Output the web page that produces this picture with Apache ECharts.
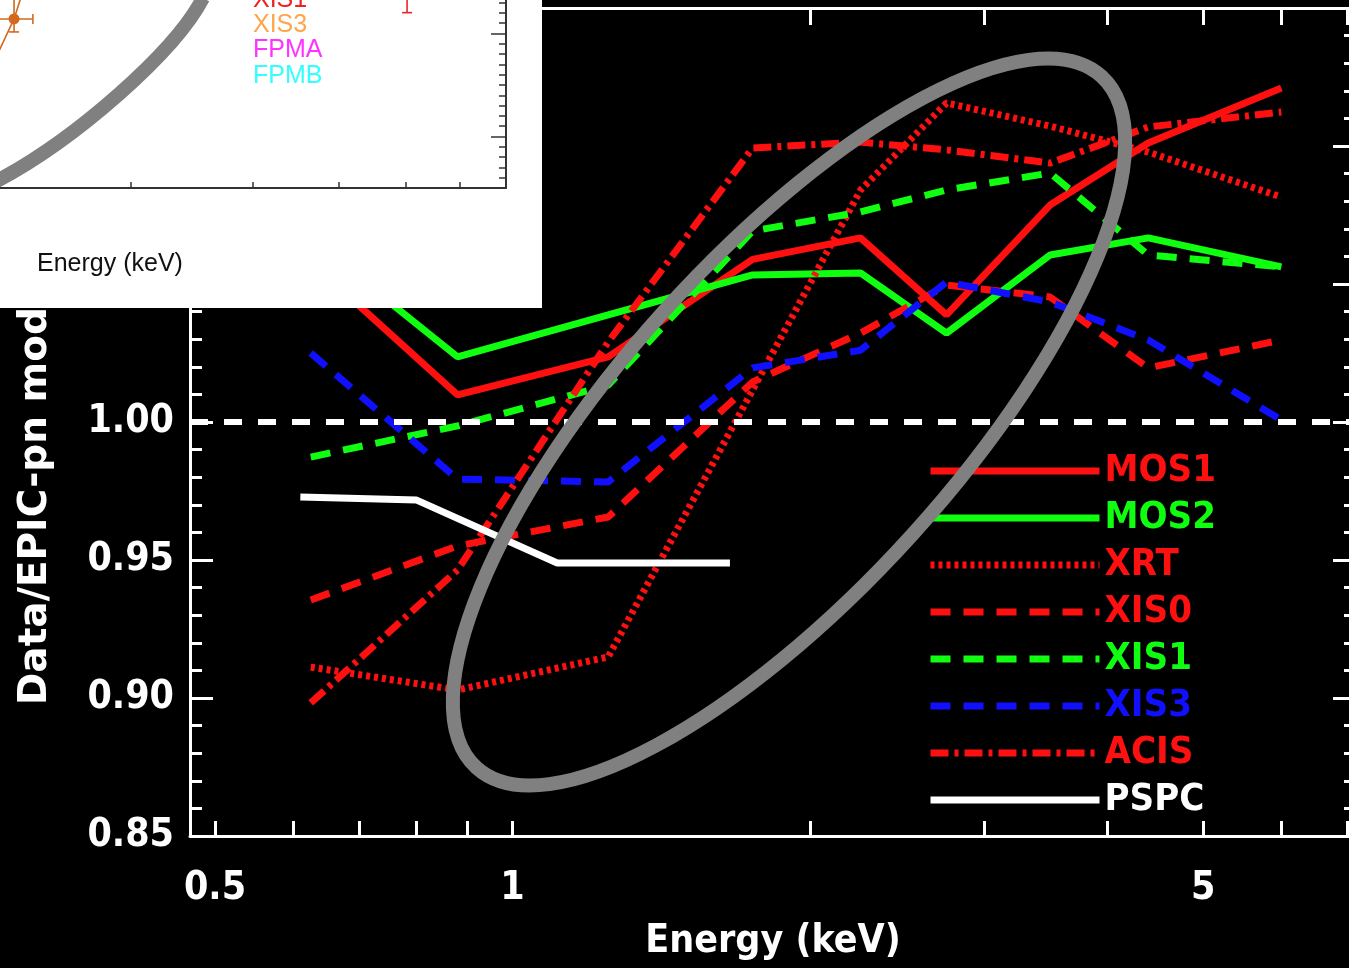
<!DOCTYPE html>
<html>
<head>
<meta charset="utf-8">
<title>Data / EPIC-pn model</title>
<script src="https://cdn.jsdelivr.net/npm/echarts@6/dist/echarts.min.js"></script>
<style>
  html, body { margin: 0; padding: 0; background: #000; }
  #chart { width: 1349px; height: 968px; }
</style>
</head>
<body>
<div id="chart"></div>
<script>
// energy nodes (keV) shared by the instrument curves
const energies = [0.625, 0.88, 1.25, 1.75, 2.25, 2.75, 3.5, 4.4, 6.0];
const mos1 = [1.058, 1.0098, 1.0236, 1.0589, 1.0667, 1.0388, 1.0786, 1.1011, 1.121];
const mos2 = [1.0663, 1.0236, 1.0388, 1.0533, 1.054, 1.0322, 1.0605, 1.0667, 1.0562];
const xrt = [0.9112, 0.9029, 0.9149, 1.0116, 1.084, 1.1156, 1.1072, 1.0978, 1.0815];
const xis0 = [0.9355, 0.9551, 0.9656, 1.0145, 1.0322, 1.0496, 1.0453, 1.0196, 1.0297];
const xis1 = [0.9873, 0.9986, 1.0134, 1.0692, 1.0761, 1.0841, 1.0902, 1.0605, 1.0562];
const xis3 = [1.025, 0.9793, 0.9783, 1.0196, 1.026, 1.0507, 1.0435, 1.0297, 1.0007];
const acis = [0.8982, 0.9464, 1.029, 1.0993, 1.1014, 1.0986, 1.0938, 1.1069, 1.1123];
const pspcEnergies = [0.61, 0.80, 1.11, 1.66];
const pspc = [0.9728, 0.9717, 0.9489, 0.9489];

// axes
const energyRange = [0.4717, 7.14];
const energyTicks = [0.5, 0.6, 0.7, 0.8, 0.9, 1, 2, 3, 4, 5, 6, 7];
const energyLabels = [0.5, 1, 5];
const ratioRange = [0.85, 1.15];

// inset (cropped panel of another figure)
const insetRange = [1.291, 7];
const insetTicks = [2, 3, 4, 5, 6];
const insetYRange = [0.5, 2.325];
const insetMajor = [1, 2];
const insetMinor = [0.6, 0.7, 0.8, 0.9, 1.1, 1.2, 1.3, 1.4, 1.5, 1.6, 1.7, 1.8, 1.9, 2.1, 2.2, 2.3];
const insetLineE = [1.206, 1.353, 1.42];
const insetLineY = [1.43, 2.141, 2.58];
// [E, y, Elow, Ehigh, ylow, yhigh]
const insetOrangeBars = [[1.353, 2.141, 1.27, 1.441, 2.015, 2.45]];
const insetRedBars = [[5.03, 2.5, 5.03, 5.03, 2.202, 2.8]];
const insetLabels = ['XIS1', 'XIS3', 'FPMA', 'FPMB'];

const FONT = '"DejaVu Sans Condensed", "DejaVu Sans", sans-serif';
const RED = '#ff1010', GREEN = '#10ff10', BLUE = '#1010ff';

const lg = Math.log10;
const pts = (xs, ys) => xs.map((e, i) => [lg(e), ys[i]]);

const chart = echarts.init(document.getElementById('chart'));

function lineSeries(name, ys, color, type, xs) {
  return {
    name: name,
    type: 'line',
    xAxisIndex: 0,
    yAxisIndex: 0,
    data: pts(xs || energies, ys),
    symbol: 'none',
    z: 3,
    lineStyle: { color: color, width: 7, type: type, cap: 'butt' },
    itemStyle: { color: color },
    emphasis: { disabled: true }
  };
}

function errRender(params, api) {
  const y = api.value(1);
  const x = api.value(0);
  const lo = api.coord([api.value(2), y]);
  const hi = api.coord([api.value(3), y]);
  const bot = api.coord([x, api.value(4)]);
  const top = api.coord([x, api.value(5)]);
  const c = 5;
  const style = { stroke: api.visual('color'), lineWidth: 1.6 };
  const ln = (x1, y1, x2, y2) => ({ type: 'line', shape: { x1, y1, x2, y2 }, style });
  return {
    type: 'group',
    children: [
      ln(lo[0], lo[1], hi[0], hi[1]),
      ln(hi[0], hi[1] - c, hi[0], hi[1] + c),
      ln(lo[0], lo[1] - c, lo[0], lo[1] + c),
      ln(bot[0], bot[1], top[0], top[1]),
      ln(bot[0] - c, bot[1], bot[0] + c, bot[1]),
      ln(top[0] - c, top[1], top[0] + c, top[1])
    ]
  };
}

const axisWhite = { color: '#fff', width: 3 };
const mainX = {
  type: 'value',
  gridIndex: 0,
  min: lg(energyRange[0]),
  max: lg(energyRange[1]),
  splitLine: { show: false },
  axisLine: { onZero: false, lineStyle: axisWhite },
  axisTick: { inside: true, length: 15, lineStyle: axisWhite, customValues: energyTicks.map(lg) },
  axisLabel: {
    customValues: energyLabels.map(lg),
    formatter: v => String(parseFloat(Math.pow(10, v).toPrecision(2))),
    color: '#fff', fontSize: 39, fontWeight: 'bold', fontFamily: FONT, margin: 33
  }
};
const mainY = {
  type: 'value',
  gridIndex: 0,
  min: ratioRange[0],
  max: ratioRange[1],
  interval: 0.05,
  splitLine: { show: false },
  axisLine: { onZero: false, lineStyle: axisWhite },
  axisTick: { inside: true, length: 23, lineStyle: axisWhite },
  minorTick: { show: true, splitNumber: 5, length: 12, lineStyle: axisWhite },
  axisLabel: {
    formatter: v => v.toFixed(2),
    color: '#fff', fontSize: 39, fontWeight: 'bold', fontFamily: FONT, margin: 16
  }
};

const insetAxisLine = { color: '#333', width: 2 };

chart.setOption({
  backgroundColor: '#000',
  animation: false,
  grid: [
    { left: 190, top: 8, width: 1166, height: 828, outerBoundsMode: 'none', containLabel: false },
    { left: 0, top: 0, width: 506, height: 188, outerBoundsMode: 'none', containLabel: false }
  ],
  xAxis: [
    Object.assign({}, mainX, {
      position: 'bottom',
      name: 'Energy (keV)',
      nameLocation: 'middle',
      nameGap: 86,
      nameTextStyle: { color: '#fff', fontSize: 39, fontWeight: 'bold', fontFamily: FONT }
    }),
    Object.assign({}, mainX, {
      position: 'top',
      axisTick: Object.assign({}, mainX.axisTick, { length: 17 }),
      axisLabel: { show: false }
    }),
    {
      type: 'value', gridIndex: 1, position: 'bottom', z: 60,
      min: lg(insetRange[0]), max: lg(insetRange[1]),
      splitLine: { show: false },
      axisLine: { onZero: false, lineStyle: insetAxisLine },
      axisTick: { inside: true, length: 6, lineStyle: { color: '#333', width: 1.5 }, customValues: insetTicks.map(lg) },
      axisLabel: { show: false }
    }
  ],
  yAxis: [
    Object.assign({}, mainY, { position: 'left' }),
    Object.assign({}, mainY, { position: 'right', axisLabel: { show: false } }),
    {
      type: 'value', gridIndex: 1, position: 'right', z: 60,
      min: insetYRange[0], max: insetYRange[1],
      splitLine: { show: false },
      axisLine: { onZero: false, lineStyle: insetAxisLine },
      axisTick: { inside: true, length: 15, lineStyle: { color: '#333', width: 1.5 }, customValues: insetMajor },
      axisLabel: { show: false }
    },
    {
      type: 'value', gridIndex: 1, position: 'right', z: 60,
      min: insetYRange[0], max: insetYRange[1],
      splitLine: { show: false },
      axisLine: { show: false, onZero: false },
      axisTick: { inside: true, length: 7, lineStyle: { color: '#333', width: 1.5 }, customValues: insetMinor },
      axisLabel: { show: false }
    }
  ],
  legend: {
    orient: 'vertical',
    left: 922,
    top: 446,
    itemWidth: 169,
    itemHeight: 20,
    itemGap: 7,
    selectedMode: false,
    itemStyle: { opacity: 0 },
    lineStyle: { width: 7 },
    textStyle: { fontSize: 38, fontWeight: 'bold', fontFamily: FONT, lineHeight: 40 },
    data: [
      { name: 'MOS1', textStyle: { color: RED } },
      { name: 'MOS2', textStyle: { color: GREEN } },
      { name: 'XRT', textStyle: { color: RED } },
      { name: 'XIS0', textStyle: { color: RED } },
      { name: 'XIS1', textStyle: { color: GREEN } },
      { name: 'XIS3', textStyle: { color: BLUE } },
      { name: 'ACIS', textStyle: { color: RED } },
      { name: 'PSPC', textStyle: { color: '#fff' } }
    ]
  },
  series: [
    lineSeries('MOS1', mos1, RED, 'solid'),
    lineSeries('MOS2', mos2, GREEN, 'solid'),
    lineSeries('XRT', xrt, RED, [4, 4]),
    lineSeries('XIS0', xis0, RED, [20, 13]),
    lineSeries('XIS1', xis1, GREEN, [20, 13]),
    lineSeries('XIS3', xis3, BLUE, [20, 13]),
    lineSeries('ACIS', acis, RED, [18, 6, 4, 6]),
    Object.assign(lineSeries('PSPC', pspc, '#fff', 'solid', pspcEnergies), {
      markLine: {
        silent: true,
        symbol: 'none',
        label: { show: false },
        lineStyle: { color: '#fff', width: 6, type: [18, 16] },
        data: [{ yAxis: 1.0 }]
      }
    }),
    {
      type: 'line', xAxisIndex: 2, yAxisIndex: 2, z: 60,
      data: pts(insetLineE, insetLineY),
      symbol: 'circle', symbolSize: 11, showAllSymbol: true,
      lineStyle: { color: '#d2691e', width: 1.6 },
      itemStyle: { color: '#d2691e' }
    },
    {
      type: 'custom', xAxisIndex: 2, yAxisIndex: 2, z: 60,
      data: insetOrangeBars.map(r => [lg(r[0]), r[1], lg(r[2]), lg(r[3]), r[4], r[5]]),
      itemStyle: { color: '#d2691e' },
      renderItem: errRender
    },
    {
      type: 'custom', xAxisIndex: 2, yAxisIndex: 2, z: 60,
      data: insetRedBars.map(r => [lg(r[0]), r[1], lg(r[2]), lg(r[3]), r[4], r[5]]),
      itemStyle: { color: '#e8262b' },
      renderItem: errRender
    }
  ],
  graphic: [
    {
      type: 'text', x: 36, y: 705, rotation: Math.PI / 2, z: 5,
      style: {
        text: 'Data/EPIC-pn model', fill: '#fff',
        font: 'bold 39px "DejaVu Sans", sans-serif',
        align: 'left', verticalAlign: 'middle', textAlign: 'left', textVerticalAlign: 'middle'
      }
    },
    {
      type: 'ellipse', x: 789, y: 422, rotation: 47.9 * Math.PI / 180, z: 10, silent: true,
      shape: { cx: 0, cy: 0, rx: 466, ry: 167 },
      style: { fill: null, stroke: '#808080', lineWidth: 14 }
    },
    {
      type: 'rect', z: 50, silent: true,
      shape: { x: 0, y: 0, width: 542, height: 308 },
      style: { fill: '#fff' }
    },
    {
      type: 'bezierCurve', z: 65, silent: true,
      shape: { x1: -5, y1: 182, cpx1: 75, cpy1: 140, cpx2: 175, cpy2: 52, x2: 203, y2: -2 },
      style: { fill: null, stroke: '#808080', lineWidth: 14 }
    },
    ...insetLabels.map((t, i) => ({
      type: 'text', x: 253, y: i * 25.3, z: 70,
      style: {
        text: t, fill: ['#ee2222', '#ffa54a', '#ff33ff', '#33ffff'][i],
        font: '25px "Liberation Sans", Arial, sans-serif',
        align: 'left', verticalAlign: 'middle', textAlign: 'left', textVerticalAlign: 'middle'
      }
    })),
    {
      type: 'text', x: 37, y: 264, z: 70,
      style: {
        text: 'Energy (keV)', fill: '#111',
        font: '25px "Liberation Sans", Arial, sans-serif',
        align: 'left', verticalAlign: 'middle', textAlign: 'left', textVerticalAlign: 'middle'
      }
    }
  ]
});
</script>
</body>
</html>
